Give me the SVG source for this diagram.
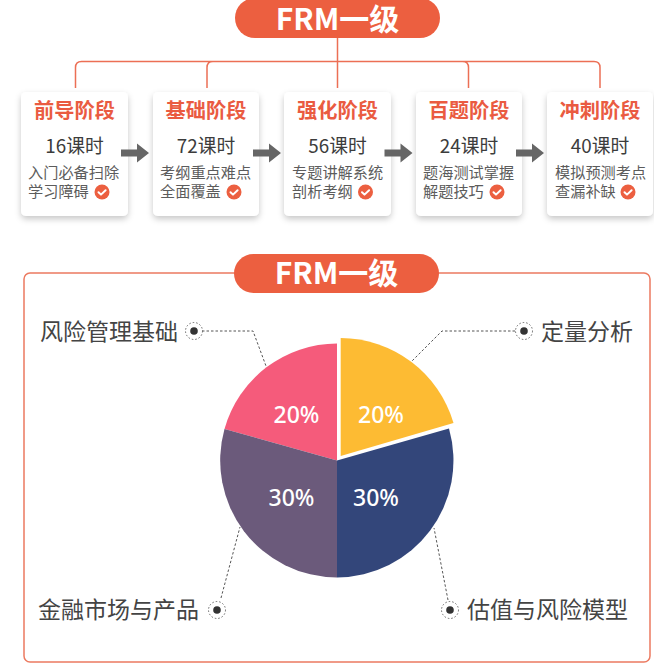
<svg xmlns="http://www.w3.org/2000/svg" width="654" height="665" viewBox="0 0 654 665">
<style>
text{font-family:"Noto Sans CJK SC","Noto Sans",sans-serif;text-anchor:middle}
.pill{fill:#ec5f40}
.pt{fill:#fff;font-size:30px;font-weight:700}
.card{fill:#fff;filter:url(#sh)}
.tt{fill:#ea5b41;font-size:20.200px;font-weight:700}
.hr{fill:#3c3c3c;font-size:18.800px}
.ds{fill:#5c5c5c;font-size:15.200px;text-anchor:start}
.chk{fill:#ec5f40}
.tick{fill:none;stroke:#fff;stroke-width:2;stroke-linecap:round;stroke-linejoin:round}
.tree{fill:none;stroke:#ec6f55;stroke-width:1.5}
.arr{fill:#666}
.lb{fill:#444;font-size:23px;text-anchor:start}
.pc{fill:#fff;font-size:23px;font-weight:500;font-family:"Noto Sans",sans-serif}
.dash{fill:none;stroke:#555;stroke-width:1;stroke-dasharray:2.5 2}
.dot{fill:#333}
.ring{fill:none;stroke:#666;stroke-width:1;stroke-dasharray:1.5 2}
</style>
<defs>
<filter id="sh" x="-20%" y="-20%" width="140%" height="140%"><feDropShadow dx="0" dy="3" stdDeviation="3" flood-color="#000" flood-opacity=".22"/></filter>
<g id="tk"><circle class="chk" r="7.5"/><path class="tick" d="M-3.5 0.2L-1 2.6L3.6-1.8"/></g>
<path id="ar" class="arr" d="M0-3.5H16V-9.5L28 0L16 9.500V3.500H0Z"/>
</defs>
<rect width="654" height="665" fill="#fff"/>
<rect x="24" y="273" width="626" height="389" rx="6" fill="none" stroke="#ec7a60" stroke-width="1.5"/>
<g id="card-1"><rect class="card" x="21" y="92" width="107" height="124" rx="5"/><text class="tt" x="74.500" y="118">前导阶段</text><text class="hr" x="74.500" y="152.500">16课时</text><text class="ds"><tspan x="28" y="178">入门必备扫除</tspan><tspan x="28" y="197">学习障碍</tspan></text><use href="#tk" x="102" y="192"/></g>
<g id="card-2"><rect class="card" x="153" y="92" width="106" height="124" rx="5"/><text class="tt" x="206" y="118">基础阶段</text><text class="hr" x="206" y="152.500">72课时</text><text class="ds"><tspan x="160" y="178">考纲重点难点</tspan><tspan x="160" y="197">全面覆盖</tspan></text><use href="#tk" x="234" y="192"/></g>
<g id="card-3"><rect class="card" x="284" y="92" width="107" height="124" rx="5"/><text class="tt" x="337.500" y="118">强化阶段</text><text class="hr" x="337.500" y="152.500">56课时</text><text class="ds"><tspan x="292" y="178">专题讲解系统</tspan><tspan x="292" y="197">剖析考纲</tspan></text><use href="#tk" x="365.500" y="192"/></g>
<g id="card-4"><rect class="card" x="416" y="92" width="106" height="124" rx="5"/><text class="tt" x="469" y="118">百题阶段</text><text class="hr" x="469" y="152.500">24课时</text><text class="ds"><tspan x="423" y="178">题海测试掌握</tspan><tspan x="423" y="197">解题技巧</tspan></text><use href="#tk" x="497" y="192"/></g>
<g id="card-5"><rect class="card" x="547" y="92" width="106" height="124" rx="5"/><text class="tt" x="600" y="118">冲刺阶段</text><text class="hr" x="600" y="152.500">40课时</text><text class="ds"><tspan x="555" y="178">模拟预测考点</tspan><tspan x="555" y="197">查漏补缺</tspan></text><use href="#tk" x="628" y="192"/></g>
<g id="pie">
<path fill="#f55b7b" d="M337 460.500L224.500 429A117 117 0 0 1 337 343.500Z"/>
<path fill="#6b5a7b" d="M337 460.500V577.500A117 117 0 0 1 224.500 429Z"/>
<path fill="#33467a" d="M337 460.500L449 428.500A117 117 0 0 1 337 577.500Z"/>
<path fill="#fdbb33" d="M340.700 456V338A118 118 0 0 1 453.500 423Z"/>
<text class="pc" x="296.500" y="422.500">20%</text>
<text class="pc" x="381" y="422.500">20%</text>
<text class="pc" x="291.500" y="506">30%</text>
<text class="pc" x="376" y="506">30%</text>
</g>
<g id="connectors">
<path class="tree" d="M75.500 88V67.500Q75.500 61.500 81.500 61.500H594Q600 61.500 600 67.500V88M207 88V67.500Q207 61.500 213 61.500M337.500 38V88M462.500 61.500Q468.500 61.500 468.500 67.500V88"/>
<use href="#ar" x="121" y="153"/>
<use href="#ar" x="253" y="153"/>
<use href="#ar" x="384.500" y="153"/>
<use href="#ar" x="516" y="153"/>
<path class="dash" d="M202 331H253L266 366"/>
<path class="dash" d="M515 331H442L412 361"/>
<path class="dash" d="M221 598L240 527"/>
<path class="dash" d="M448 600L434 528"/>
</g>
<g id="title-top"><rect class="pill" x="235" y="-2" width="205" height="40" rx="20"/><text class="pt" x="337.500" y="30">FRM一级</text></g>
<g id="title-bottom"><rect class="pill" x="234" y="254" width="205" height="39" rx="19.500"/><text class="pt" x="336.500" y="284">FRM一级</text></g>
<g id="label-1"><circle class="ring" cx="194" cy="331" r="8.500"/><circle class="dot" cx="194" cy="331" r="3.800"/><text class="lb" x="40" y="339.500">风险管理基础</text></g>
<g id="label-2"><circle class="ring" cx="524" cy="331" r="8.500"/><circle class="dot" cx="524" cy="331" r="3.800"/><text class="lb" x="541" y="339.500">定量分析</text></g>
<g id="label-3"><circle class="ring" cx="217" cy="610" r="8.500"/><circle class="dot" cx="217" cy="610" r="3.800"/><text class="lb" x="38" y="618">金融市场与产品</text></g>
<g id="label-4"><circle class="ring" cx="450" cy="610" r="8.500"/><circle class="dot" cx="450" cy="610" r="3.800"/><text class="lb" x="467" y="618">估值与风险模型</text></g>
</svg>
